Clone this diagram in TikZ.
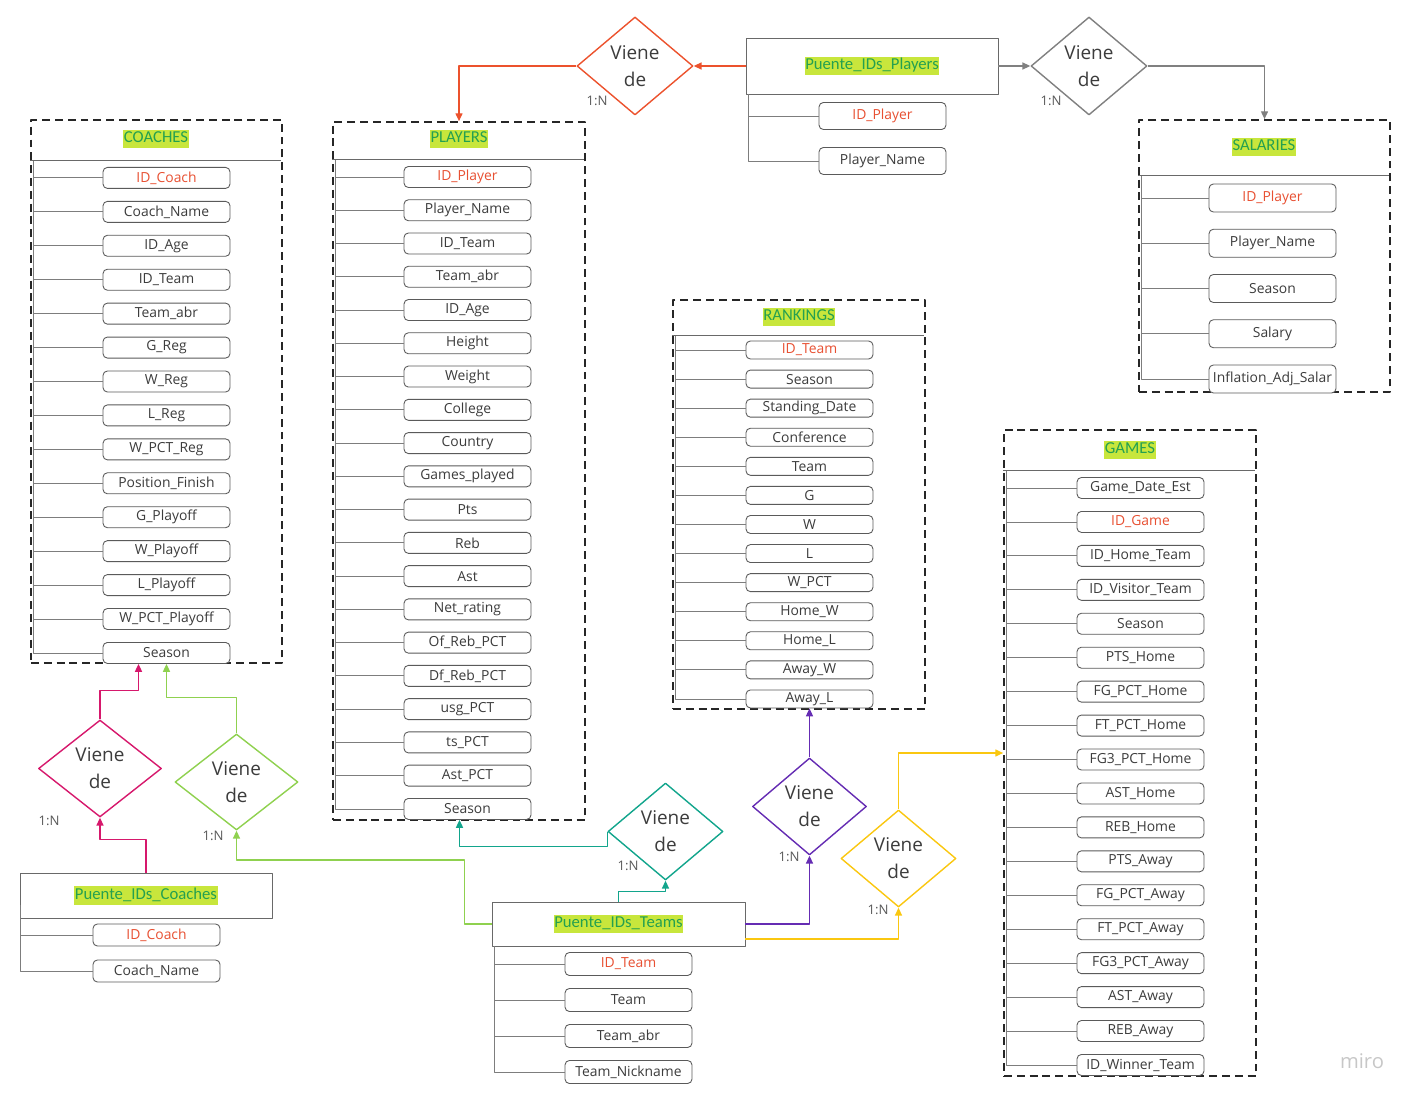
\documentclass[tikz,border=0pt]{standalone}
\usepackage{fontspec}
\setmainfont{Open Sans}
\newfontfamily\ttlfont{Carlito}
\usetikzlibrary{shapes.geometric,arrows.meta,calc}
\definecolor{ink}{RGB}{60,60,60}
\definecolor{edge}{RGB}{90,90,90}
\definecolor{framegray}{RGB}{105,105,105}
\definecolor{stubgray}{RGB}{125,125,125}
\definecolor{keyred}{RGB}{232,80,50}
\definecolor{ttlgreen}{RGB}{36,160,80}
\definecolor{hilite}{RGB}{200,230,60}
\definecolor{relred}{RGB}{236,82,45}
\definecolor{relgray}{RGB}{128,128,128}
\definecolor{relcrim}{RGB}{214,24,108}
\definecolor{rellime}{RGB}{143,209,79}
\definecolor{relteal}{RGB}{18,165,140}
\definecolor{relviolet}{RGB}{101,44,179}
\definecolor{relgold}{RGB}{250,199,16}
\newcommand\keyattr[1]{\textcolor{keyred}{#1}}
\def\px{0.02cm}
\begin{document}
\begin{tikzpicture}[x=\px,y=-\px,>={Triangle[length=4.5pt,width=4pt]},line join=round,
	tbl/.style={draw=black!85,dash pattern=on 4.5pt off 2.8pt,line width=0.95pt,inner sep=0},
	bridge/.style={draw=framegray,line width=0.55pt,inner sep=0},
	hdr/.style={draw=framegray,line width=0.55pt},
	ttl/.style={fill=hilite,text=ttlgreen,font=\ttlfont\fontsize{9.5}{11}\selectfont,inner xsep=0.3pt,inner ysep=0pt,text height=7.5pt,text depth=3pt},
	attr/.style={draw=edge,fill=white,rounded corners=2.5pt,line width=0.5pt,text=ink,font=\fontsize{7.9}{9}\selectfont,inner sep=0,minimum width=127*\px,minimum height=21*\px},
	stub/.style={draw=stubgray,line width=0.5pt},
	rel/.style={diamond,draw,line width=0.8pt,text=ink,align=center,font=\fontsize{10.8}{15.3}\selectfont,inner sep=0},
	card/.style={text=ink!85,font=\fontsize{7.5}{9}\selectfont,inner sep=0},
	link/.style={->,line width=0.8pt}]
	\useasboundingbox (0,0) rectangle (1417,1101);
	% COACHES
	\node[tbl,minimum width=251*\px,minimum height=543*\px] (coaches) at (156.5,391.5) {};
	\draw[hdr] ($(coaches.north west)+(0,41)$) -- ++(251,0);
	\node[ttl] (coachesT) at (156,139) {COACHES};
	\foreach \t [count=\i] in {\keyattr{ID\_Coach},Coach\_Name,ID\_Age,ID\_Team,Team\_abr,G\_Reg,W\_Reg,L\_Reg,W\_PCT\_Reg,Position\_Finish,G\_Playoff,W\_Playoff,L\_Playoff,W\_PCT\_Playoff,Season}
		\node[attr] (co\i) at (166.5,{144+33.93*\i}) {\t};
	\coordinate (coV) at (33,161);
	\draw[stub] (coV) |- (co15.west);
	\foreach \i in {1,...,14} \draw[stub] (co\i.west) -- (co\i.west -| coV);
	% PLAYERS
	\node[tbl,minimum width=252*\px,minimum height=698*\px] (players) at (459,471) {};
	\draw[hdr] ($(players.north west)+(0,38)$) -- ++(252,0);
	\node[ttl] (playersT) at (459,139) {PLAYERS};
	\foreach \t [count=\i] in {\keyattr{ID\_Player},Player\_Name,ID\_Team,Team\_abr,ID\_Age,Height,Weight,College,Country,Games\_played,Pts,Reb,Ast,Net\_rating,Of\_Reb\_PCT,Df\_Reb\_PCT,usg\_PCT,ts\_PCT,Ast\_PCT,Season}
		\node[attr] (pl\i) at (467.5,{143.74+33.26*\i}) {\t};
	\coordinate (plV) at (335,160);
	\draw[stub] (plV) |- (pl20.west);
	\foreach \i in {1,...,19} \draw[stub] (pl\i.west) -- (pl\i.west -| plV);
	% RANKINGS
	\node[tbl,minimum width=252*\px,minimum height=409*\px] (rankings) at (799,504.5) {};
	\draw[hdr] ($(rankings.north west)+(0,36)$) -- ++(252,0);
	\node[ttl] (rankingsT) at (799,317) {RANKINGS};
	\foreach \t [count=\i] in {\keyattr{ID\_Team},Season,Standing\_Date,Conference,Team,G,W,L,W\_PCT,Home\_W,Home\_L,Away\_W,Away\_L}
		\node[attr,minimum height=18*\px] (rk\i) at (809.5,{320.92+29.08*\i}) {\t};
	\coordinate (rkV) at (675,336);
	\draw[stub] (rkV) |- (rk13.west);
	\foreach \i in {1,...,12} \draw[stub] (rk\i.west) -- (rk\i.west -| rkV);
	% GAMES
	\node[tbl,minimum width=252*\px,minimum height=646*\px] (games) at (1130,753) {};
	\draw[hdr] ($(games.north west)+(0,41)$) -- ++(252,0);
	\node[ttl] (gamesT) at (1130,450) {GAMES};
	\foreach \t [count=\i] in {Game\_Date\_Est,\keyattr{ID\_Game},ID\_Home\_Team,ID\_Visitor\_Team,Season,PTS\_Home,FG\_PCT\_Home,FT\_PCT\_Home,FG3\_PCT\_Home,AST\_Home,REB\_Home,PTS\_Away,FG\_PCT\_Away,FT\_PCT\_Away,FG3\_PCT\_Away,AST\_Away,REB\_Away,ID\_Winner\_Team}
		\node[attr] (ga\i) at (1140.5,{454.06+33.94*\i}) {\t};
	\coordinate (gaV) at (1006,471);
	\draw[stub] (gaV) |- (ga18.west);
	\foreach \i in {1,...,17} \draw[stub] (ga\i.west) -- (ga\i.west -| gaV);
	% SALARIES
	\node[tbl,minimum width=251*\px,minimum height=272*\px] (salaries) at (1264.5,256) {};
	\draw[hdr] ($(salaries.north west)+(0,56)$) -- ++(251,0);
	\node[ttl] (salariesT) at (1264,147) {SALARIES};
	\foreach \t [count=\i] in {\keyattr{ID\_Player},Player\_Name,Season,Salary,Inflation\_Adj\_Salar}
		\node[attr,minimum height=28*\px] (sa\i) at (1272.5,{152.75+45.25*\i}) {\t};
	\coordinate (saV) at (1141,176);
	\draw[stub] (saV) |- (sa5.west);
	\foreach \i in {1,...,4} \draw[stub] (sa\i.west) -- (sa\i.west -| saV);
	% bridges
	\node[bridge,minimum width=252*\px,minimum height=56*\px] (pPlayer) at (872,66) {};
	\node[ttl] (pPlayerT) at (pPlayer) {Puente\_IDs\_Players};
	\foreach \t [count=\i] in {\keyattr{ID\_Player},Player\_Name}
		\node[attr,minimum height=27*\px] (pp\i) at (882.5,{71+45*\i}) {\t};
	\coordinate (ppV) at (748,94);
	\draw[stub] (ppV) |- (pp2.west);
	\draw[stub] (pp1.west) -- (pp1.west -| ppV);
	\node[bridge,minimum width=252*\px,minimum height=45*\px] (pCoach) at (146,895.5) {};
	\node[ttl] (pCoachT) at (pCoach) {Puente\_IDs\_Coaches};
	\foreach \t [count=\i] in {\keyattr{ID\_Coach},Coach\_Name}
		\node[attr,minimum height=22*\px] (pc\i) at (156.5,{899+36*\i}) {\t};
	\coordinate (pcV) at (20,905);
	\draw[stub] (pcV) |- (pc2.west);
	\draw[stub] (pc1.west) -- (pc1.west -| pcV);
	\node[bridge,minimum width=253*\px,minimum height=44*\px] (pTeam) at (618.5,924) {};
	\node[ttl] (pTeamT) at (pTeam) {Puente\_IDs\_Teams};
	\foreach \t [count=\i] in {\keyattr{ID\_Team},Team,Team\_abr,Team\_Nickname}
		\node[attr,minimum height=23*\px] (pt\i) at (628.5,{928+36*\i}) {\t};
	\coordinate (ptV) at (494,946);
	\draw[stub] (ptV) |- (pt4.west);
	\foreach \i in {1,...,3} \draw[stub] (pt\i.west) -- (pt\i.west -| ptV);
	% relations
	\node[rel,draw=relred,minimum width=116*\px,minimum height=98*\px] (dPlay) at (635,66) {Viene\\de};
	\node[rel,draw=relgray,minimum width=116*\px,minimum height=98*\px] (dSal) at (1089,66) {Viene\\de};
	\node[rel,draw=relcrim,minimum width=123*\px,minimum height=97*\px] (dCoach) at (100,768.5) {Viene\\de};
	\node[rel,draw=rellime,minimum width=123*\px,minimum height=96*\px] (dTeamCo) at (236.5,782) {Viene\\de};
	\node[rel,draw=relteal,minimum width=115*\px,minimum height=97*\px] (dTeamPl) at (665.5,831.5) {Viene\\de};
	\node[rel,draw=relviolet,minimum width=114*\px,minimum height=97*\px] (dRank) at (809.5,806.5) {Viene\\de};
	\node[rel,draw=relgold,minimum width=115*\px,minimum height=97*\px] (dGame) at (898.5,858.5) {Viene\\de};
	\foreach \n/\x/\y in {1/597/101,2/1051/101,3/49/821,4/213/836,5/628/866,6/789/857,7/878/910}
		\node[card] (card\n) at (\x,\y) {1:N};
	\draw[link,relred] (pPlayer.west) -- (dPlay.east);
	\draw[link,relred] (dPlay.west) -| (players.north);
	\draw[link,relgray] (pPlayer.east) -- (dSal.west);
	\draw[link,relgray] (dSal.east) -| (salaries.north);
	\draw[link,relcrim] (pCoach.north) -- ++(0,-33) -| (dCoach.south);
	\draw[link,relcrim] (dCoach.north) -- ++(0,-29) -| ($(co15.south)+(-28,0)$);
	\draw[link,rellime] (pTeam.west) -- ++(-27,0) -- ++(0,-64) -| (dTeamCo.south);
	\draw[link,rellime] (dTeamCo.north) -- ++(0,-36) -| (co15.south);
	\draw[link,relteal] (pTeam.north) -- ++(0,-10) -| (dTeamPl.south);
	\draw[link,relteal] (dTeamPl.west) -- ++(0,15) -| ($(pl20.south)+(-8,0)$);
	\draw[link,relviolet] (pTeam.east) -| (dRank.south);
	\draw[link,relviolet] (dRank.north) -- (rk13.south);
	\draw[link,relgold] ($(pTeam.east)+(0,15)$) -| (dGame.south);
	\draw[link,relgold] (dGame.north) |- (games.west);
	\node[text=black!22,font=\fontsize{11.5}{13}\selectfont] (miro) at (1362,1061) {miro};
\end{tikzpicture}
\end{document}
